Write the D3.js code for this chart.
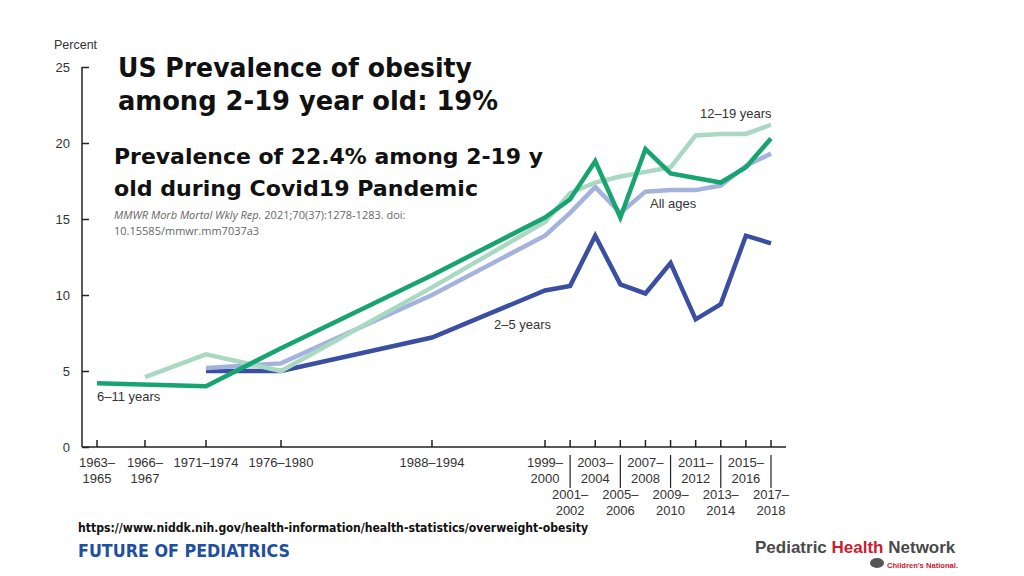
<!DOCTYPE html>
<html><head><meta charset="utf-8">
<script src="https://cdn.jsdelivr.net/npm/d3@7"></script>
<style>html,body{margin:0;padding:0;background:#fff;}svg{display:block;}</style>
</head><body>
<svg id="chart" width="1024" height="576"></svg>
<script>
// ---- data ----
const periods = ["1963–1965","1966–1967","1971–1974","1976–1980","1988–1994","1999–2000","2001–2002","2003–2004","2005–2006","2007–2008","2009–2010","2011–2012","2013–2014","2015–2016","2017–2018"];
const periodLines = [["1963–","1965"],["1966–","1967"],["1971–1974"],["1976–1980"],["1988–1994"],["1999–","2000"],["2001–","2002"],["2003–","2004"],["2005–","2006"],["2007–","2008"],["2009–","2010"],["2011–","2012"],["2013–","2014"],["2015–","2016"],["2017–","2018"]];
const midYears = [1964,1966.5,1972.5,1978,1991,1999.5,2001.5,2003.5,2005.5,2007.5,2009.5,2011.5,2013.5,2015.5,2017.5];
const lowerRow = [false,false,false,false,false,false,true,false,true,false,true,false,true,false,true];
const sixTo11   = [4.2, null, 4.0, 6.5, 11.3, 15.1, 16.3, 18.8, 15.1, 19.6, 18.0, 17.7, 17.4, 18.4, 20.3];
const twelveTo19= [null, 4.6, 6.1, 5.0, 10.5, 14.8, 16.7, 17.4, 17.8, 18.1, 18.4, 20.5, 20.6, 20.6, 21.2];
const twoTo5    = [null, null, 5.0, 5.0, 7.2, 10.3, 10.6, 13.9, 10.7, 10.1, 12.1, 8.4, 9.4, 13.9, 13.4];
const allAges   = [null, null, 5.2, 5.5, 10.0, 13.9, 15.4, 17.1, 15.4, 16.8, 16.9, 16.9, 17.2, 18.5, 19.3];
const yTicks = [0,5,10,15,20,25];
const seriesNames = ["2–5 years","All ages","12–19 years","6–11 years"];

const svg = d3.select("#chart");
const FONT = "'Liberation Sans', Arial, sans-serif";

// ---- scales ----
const axisLeft = 82, axisRight = 786, plotL = 97, plotR = 771;
const yTop = 67, yBottom = 447;
const y = d3.scaleLinear().domain([0,25]).range([yBottom, yTop]);
const breakYears = [1964,1966.5,1972.5,1978,1991,1999.5,2017.5];
const breakFrac = [0,0.0712,0.1617,0.273,0.497,0.6647,1];
const x = d3.scaleLinear().domain(breakYears).range(breakFrac.map(f => plotL + f*(plotR-plotL)));

// ---- y axis ----
const gy = svg.append("g").attr("transform",`translate(${axisLeft},0)`)
  .call(d3.axisRight(y).tickValues(yTicks).tickSize(7).tickFormat(""));
gy.select(".domain").attr("d",`M0,${yTop}V${yBottom}`).attr("stroke","#222").attr("stroke-width",1.5);
gy.selectAll(".tick line").attr("stroke","#222").attr("stroke-width",1.5);
svg.append("g").selectAll("text").data(yTicks).join("text")
  .attr("x",70).attr("y",d=>y(d)).attr("dy","0.35em").attr("text-anchor","end")
  .attr("font-family",FONT).attr("font-size",13).attr("fill","#333").text(d=>d);
svg.append("text").attr("x",54).attr("y",49).attr("font-family",FONT).attr("font-size",12.5).attr("fill","#333").text("Percent");

// ---- x axis ----
svg.append("line").attr("x1",axisLeft).attr("x2",axisRight).attr("y1",yBottom).attr("y2",yBottom)
  .attr("stroke","#222").attr("stroke-width",1.5);
const gx = svg.append("g");
gx.selectAll("line.tick").data(midYears).join("line").attr("class","tick")
  .attr("x1",d=>x(d)).attr("x2",d=>x(d)).attr("y1",yBottom).attr("y2",yBottom-7)
  .attr("stroke","#222").attr("stroke-width",1.5);
gx.selectAll("line.sep").data(midYears.filter((d,i)=>lowerRow[i])).join("line").attr("class","sep")
  .attr("x1",d=>x(d)).attr("x2",d=>x(d)).attr("y1",455).attr("y2",488)
  .attr("stroke","#222").attr("stroke-width",1.2);
const lbl = gx.selectAll("text").data(periods).join("text")
  .attr("font-family",FONT).attr("font-size",13).attr("fill","#333").attr("text-anchor","middle");
lbl.each(function(d,i){
  const t = d3.select(this);
  const base = lowerRow[i] ? 499 : 467;
  periodLines[i].forEach((s,j)=>{
    t.append("tspan").attr("x",x(midYears[i])).attr("y",base + j*15.5).text(s);
  });
});

// ---- lines ----
const series = [
  {name:seriesNames[0], values:twoTo5, color:"#3a4fa2"},
  {name:seriesNames[1], values:allAges, color:"#a4b3de"},
  {name:seriesNames[2], values:twelveTo19, color:"#a9d9c3"},
  {name:seriesNames[3], values:sixTo11, color:"#17a470"}
];
const line = d3.line().defined(d=>d.v!=null).x(d=>x(d.t)).y(d=>y(d.v));
svg.append("g").selectAll("path").data(series).join("path")
  .attr("d",s=>line(s.values.map((v,i)=>({t:midYears[i],v})).filter(d=>d.v!=null)))
  .attr("fill","none").attr("stroke",s=>s.color).attr("stroke-width",4.5)
  .attr("stroke-linejoin","miter").attr("stroke-linecap","butt");

// series labels
const lab = (txt,xx,yy)=>svg.append("text").attr("x",xx).attr("y",yy).attr("font-family",FONT)
  .attr("font-size",13).attr("fill","#333").text(txt);
lab(seriesNames[2],700,118);
lab(seriesNames[1],650,208);
lab(seriesNames[0],494,329);
lab(seriesNames[3],97,401);

// ---- titles ----
const TF = "'DejaVu Sans', sans-serif";
const tt = (txt,xx,yy,size,len,weight,fill)=>svg.append("text").attr("x",xx).attr("y",yy)
  .attr("font-family",TF).attr("font-size",size).attr("font-weight",weight||"bold").attr("fill",fill||"#111")
  .attr("textLength",len).attr("lengthAdjust","spacingAndGlyphs").text(txt);
tt("US Prevalence of obesity",118,77,27,354);
tt("among 2-19 year old: 19%",118,110,27,380);
tt("Prevalence of 22.4% among 2-19 y",114,164,22,429);
tt("old during Covid19 Pandemic",114,196,22,364);

const cit = svg.append("text").attr("x",114).attr("y",219).attr("font-family","'Open Sans', sans-serif")
  .attr("font-size",11).attr("fill","#666");
cit.append("tspan").attr("font-style","italic").text("MMWR Morb Mortal Wkly Rep.");
cit.append("tspan").text(" 2021;70(37):1278-1283. doi:");
svg.append("text").attr("x",114).attr("y",235).attr("font-family","'Open Sans', sans-serif")
  .attr("font-size",11).attr("fill","#666").text("10.15585/mmwr.mm7037a3");

// ---- footer ----
tt("https://www.niddk.nih.gov/health-information/health-statistics/overweight-obesity",78,532,11.5,510,"bold","#111");
tt("FUTURE OF PEDIATRICS",78,557,17,212,"bold","#1f4fa0");
const logo = svg.append("text").attr("x",755).attr("y",553).attr("font-family",FONT).attr("font-size",17)
  .attr("font-weight","bold");
logo.append("tspan").attr("fill","#4a4a4a").text("Pediatric ");
logo.append("tspan").attr("fill","#c8202f").text("Health");
logo.append("tspan").attr("fill","#4a4a4a").text(" Network");
svg.append("ellipse").attr("cx",877).attr("cy",563).attr("rx",7).attr("ry",5).attr("fill","#555");
svg.append("text").attr("x",887).attr("y",568).attr("font-family",FONT).attr("font-size",7.6)
  .attr("font-weight","bold").attr("fill","#c8202f").text("Children's National.");
</script>
</body></html>
